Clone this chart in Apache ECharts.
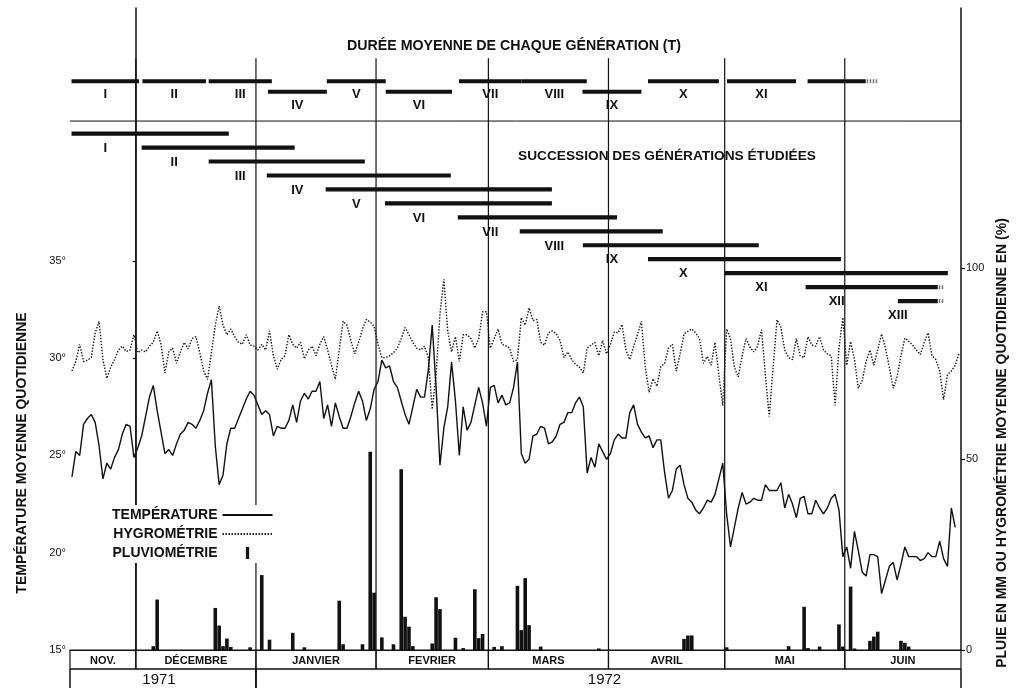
<!DOCTYPE html>
<html><head><meta charset="utf-8">
<script src="https://cdn.jsdelivr.net/npm/echarts@6/dist/echarts.min.js"></script>
<style>html,body{margin:0;padding:0;background:#fff}#c{width:1019px;height:688px}</style>
</head><body><div id="c"></div><script>
// Days are counted from 1 December 1971 (day 0). First daily value = day -17 (14 Nov 1971).
const firstDay = -17;
const lastDay = 213; // 1 July 1972

const temperature = [
23.9,25.2,25.0,26.6,26.9,27.1,26.7,25.5,23.8,24.6,
24.3,24.9,25.3,26.1,26.6,26.5,24.9,
25.4,26.0,27.0,28.0,28.6,27.3,26.2,25.1,25.3,25.0,
25.6,26.1,26.3,26.7,26.6,26.4,26.8,27.3,28.2,28.9,
25.5,23.5,24.0,25.6,26.4,26.4,26.9,27.4,27.9,28.3,
28.1,27.6,27.1,27.3,27.1,26.0,26.5,26.4,26.4,26.8,
27.6,26.7,27.8,28.2,27.9,28.3,28.3,28.8,26.9,27.6,
26.5,27.7,27.0,26.4,26.4,27.0,27.7,28.3,27.8,26.8,
27.4,28.4,28.8,29.9,29.5,29.6,28.8,28.5,27.8,27.1,
26.6,27.5,28.4,28.0,28.0,29.4,31.7,28.5,24.5,26.4,
27.5,29.8,27.8,25.0,27.5,26.3,26.7,27.6,28.5,27.7,
26.5,28.5,28.6,27.7,28.1,27.6,27.7,28.5,29.8,25.1,
24.6,24.8,26.0,26.1,26.5,26.4,25.6,25.7,26.0,26.6,
26.7,27.2,27.2,27.7,28.0,27.5,24.1,24.9,24.4,25.6,
25.2,24.8,25.1,25.8,26.1,25.9,25.9,27.2,27.6,26.6,
26.2,25.9,26.0,25.4,25.8,25.8,24.1,22.8,23.2,24.3,
24.5,23.5,22.8,22.6,22.2,22.0,22.3,22.7,22.6,23.0,
23.8,24.6,22.0,20.3,21.3,22.3,23.1,22.5,22.6,22.8,
22.7,22.7,23.5,23.2,23.2,23.2,23.6,22.3,23.0,22.5,
21.8,22.8,22.9,22.0,22.0,22.7,22.3,22.0,22.3,22.8,
23.0,22.2,19.8,20.3,19.2,21.1,20.1,19.0,18.8,19.9,
19.9,19.8,17.9,18.6,19.3,19.5,18.6,19.4,20.3,19.8,
19.8,19.8,19.6,19.7,20.0,19.8,19.8,20.6,19.7,19.3,
22.3,21.3,null
];

const hygrometry = [
73.0,75.5,80.0,75.5,75.8,76.6,83.0,86.0,76.0,71.1,
74.0,76.0,78.5,79.5,78.1,78.5,82.5,
77.8,78.5,78.0,79.5,80.5,83.5,80.0,72.5,78.0,79.0,
75.0,78.0,80.5,78.8,81.5,82.0,77.8,73.0,70.8,77.8,
85.0,90.0,85.0,82.5,84.0,82.0,80.5,80.0,82.5,79.8,
79.5,78.5,80.0,78.5,83.5,77.0,73.5,76.0,77.0,82.5,
80.0,79.0,80.5,76.2,78.5,79.5,77.0,80.0,82.0,78.5,
74.5,70.8,78.5,86.0,85.0,81.0,77.5,80.5,84.0,86.5,
85.8,84.7,80.0,76.5,76.5,77.0,77.8,79.0,81.5,84.4,
82.5,80.5,79.0,78.5,79.5,76.5,63.0,72.0,88.0,97.0,
83.5,78.0,82.0,75.5,82.5,82.5,81.5,79.0,81.5,88.5,
88.5,79.0,81.5,84.0,80.0,79.6,79.0,75.5,76.0,87.0,
85.0,89.5,86.2,86.5,80.5,79.8,83.0,83.5,82.8,81.0,
76.5,78.0,76.0,74.8,74.0,72.5,79.0,79.8,80.5,77.0,
81.0,77.5,80.0,83.2,83.0,85.2,78.5,76.0,79.5,82.5,
86.0,74.0,67.4,71.0,69.0,74.2,75.0,79.0,80.0,73.0,
77.5,82.7,83.4,84.0,83.0,81.5,75.0,76.8,74.5,80.5,
72.0,64.0,84.0,81.5,74.0,71.5,77.0,81.5,79.3,78.0,
79.5,83.8,72.0,61.1,74.0,86.4,84.5,78.5,76.5,76.0,
81.5,77.0,76.5,82.0,79.8,79.5,82.0,78.5,77.5,77.0,
64.0,79.0,87.0,74.5,80.7,76.0,68.5,70.5,75.5,78.5,
74.5,78.5,82.7,79.0,74.0,68.5,71.5,77.0,81.6,80.8,
79.8,78.5,77.3,80.5,83.0,77.0,76.0,73.0,65.5,72.0,
73.0,74.5,77.7
];

const rainDays = [4,5,20,21,22,23,24,29,32,34,40,43,52,53,58,60,61,63,66,68,69,70,71,76,77,78,82,84,87,88,89,92,94,98,99,100,101,104,119,141,142,143,152,168,172,173,176,181,182,184,185,189,190,191,197,198,199];
const rainMM = [1.0,13.2,11.0,6.4,1.0,3.0,0.8,0.7,19.6,2.7,4.5,0.7,12.9,1.5,1.5,51.9,15.0,3.3,1.5,47.3,8.7,6.1,1.0,1.7,13.8,10.7,3.2,0.5,15.9,3.1,4.2,0.8,1.0,16.8,5.2,18.8,6.5,0.9,0.4,2.9,3.8,3.8,0.7,1.0,11.3,0.5,0.9,6.7,0.9,16.6,0.4,2.4,3.5,4.8,2.4,1.9,0.9];

const monthNames = ['NOV.','DÉCEMBRE','JANVIER','FEVRIER','MARS','AVRIL','MAI','JUIN'];
const monthStart = [-17,0,31,62,91,122,152,183];
const monthEnd = [0,31,62,91,122,152,183,213];
const yearNames = ['1971','1972'];
const yearStart = [-17,31];
const yearEnd = [31,213];

const genNames = ['I','II','III','IV','V','VI','VII','VIII','IX','X','XI','XII','XIII'];
// Durée moyenne de chaque génération (T)
const dureeStart = [-16.6,1.7,18.8,34.1,49.3,64.5,83.4,99.6,115.3,132.2,152.6,173.4];
const dureeEnd   = [0.8,18.1,35.1,49.3,64.5,81.6,99.6,116.4,130.5,150.5,170.4,188.4];
const dureeLevel = [0,0,0,1,0,1,0,0,1,0,0,0];
const dureeShowName = [1,1,1,1,1,1,1,1,1,1,1,0];
const dureeDotsTo = [null,null,null,null,null,null,null,null,null,null,null,191.5];
// Succession des générations étudiées
const succStart = [-16.6,1.5,18.8,33.8,49.0,64.3,83.1,99.1,115.4,132.2,152.0,172.9,196.7];
const succEnd   = [24.0,41.0,59.1,81.3,107.4,107.4,124.2,136.0,160.8,182.0,209.6,207.0,207.0];
const succDotsTo = [null,null,null,null,null,null,null,null,null,null,null,208.6,208.6];

const FONT = '"Liberation Sans", Arial, sans-serif';
const INK = '#111';

const chart = echarts.init(document.getElementById('c'), null, {renderer:'canvas'});
const tempData = temperature.map((v,i)=>[firstDay+i+0.5, v]);
const hygroData = hygrometry.map((v,i)=>[firstDay+i+0.5, v]);
const rainData = rainDays.map((d,i)=>[d+0.5, rainMM[i]]);
const bounds = monthStart.slice(1);

function seg(a,b,w,extra){return {type:'line',shape:{x1:a[0],y1:a[1],x2:b[0],y2:b[1]},style:Object.assign({stroke:INK,lineWidth:w},extra||{})};}
function txt(p,t,size,extra){return {type:'text',x:p[0],y:p[1],style:Object.assign({text:t,fill:INK,fontSize:size,fontWeight:'bold',fontFamily:FONT,align:'center',verticalAlign:'middle'},extra||{})};}

const option = {
  animation:false,
  backgroundColor:'#fff',
  color:[INK],
  grid:[{left:70,right:58,top:8,height:642},{left:70,right:58,top:650,height:38}],
  title:[
    {text:'DURÉE MOYENNE DE CHAQUE GÉNÉRATION (T)',left:514,top:39,textAlign:'center',padding:0,
     textStyle:{fontFamily:FONT,fontSize:14.2,fontWeight:'bold',color:INK}},
    {text:'SUCCESSION DES GÉNÉRATIONS ÉTUDIÉES',left:667,top:149,textAlign:'center',padding:0,
     textStyle:{fontFamily:FONT,fontSize:13.7,fontWeight:'bold',color:INK}}
  ],
  legend:{
    orient:'vertical',align:'right',left:108,top:505,itemWidth:50,itemHeight:12,itemGap:5,
    backgroundColor:'#fff',padding:[3,4,3,4],
    textStyle:{fontFamily:FONT,fontSize:14,fontWeight:'bold',color:INK},
    data:[
      {name:'TEMPÉRATURE',itemStyle:{opacity:0}},
      {name:'HYGROMÉTRIE',itemStyle:{opacity:0}},
      {name:'PLUVIOMÉTRIE',icon:'path://M0,0h3v11h-3z',itemStyle:{color:INK}}
    ]
  },
  xAxis:[
    {gridIndex:0,type:'value',min:firstDay,max:lastDay,axisLine:{show:true,lineStyle:{color:INK,width:1.2}},
     axisTick:{show:false},axisLabel:{show:false},splitLine:{show:false}},
    {gridIndex:1,type:'value',min:firstDay,max:lastDay,show:false}
  ],
  yAxis:[
    {gridIndex:0,type:'value',min:15,max:48,interval:5,position:'left',
     axisLine:{show:true,lineStyle:{color:INK,width:1.5}},
     axisTick:{show:true,length:3,inside:false,customValues:[15,20,25,30,35],lineStyle:{color:INK,width:1.2}},
     axisLabel:{customValues:[15,20,25,30,35],formatter:v=>v<=35?v+'°':'',color:INK,fontSize:11,fontFamily:FONT,margin:4},
     splitLine:{show:false},
     name:'TEMPÉRATURE MOYENNE QUOTIDIENNE',nameLocation:'middle',nameGap:41,nameRotate:90,
     nameTextStyle:{fontFamily:FONT,fontSize:14,fontWeight:'bold',color:INK,padding:[0,248,0,0]}},
    {gridIndex:0,type:'value',min:0,max:168,interval:50,position:'right',
     axisLine:{show:true,lineStyle:{color:INK,width:1.5}},
     axisTick:{show:true,length:4,customValues:[0,50,100],lineStyle:{color:INK,width:1.2}},
     axisLabel:{customValues:[0,50,100],formatter:v=>v<=100?String(v):'',color:INK,fontSize:11,fontFamily:FONT,margin:5},
     splitLine:{show:false},
     name:'PLUIE EN MM OU HYGROMÉTRIE MOYENNE QUOTIDIENNE EN (%)',nameLocation:'middle',nameGap:25,nameRotate:90,
     nameTextStyle:{fontFamily:FONT,fontSize:14,fontWeight:'bold',color:INK,padding:[0,228,0,0]}},
    {gridIndex:0,type:'value',min:0,max:46,inverse:true,show:false},
    {gridIndex:1,type:'value',min:0,max:2,inverse:true,show:false}
  ],
  series:[
    {type:'custom',name:'monthLines',xAxisIndex:0,yAxisIndex:2,z:1,silent:true,
     data:bounds.map(d=>[d,46]),
     renderItem:(p,api)=>{const d=bounds[p.dataIndex];return seg(api.coord([d,3.6]),api.coord([d,46]),1.2);}},
    {type:'custom',name:'separator',xAxisIndex:0,yAxisIndex:2,z:1,silent:true,
     data:[[firstDay,8.1]],
     renderItem:(p,api)=>seg(api.coord([firstDay,8.1]),api.coord([lastDay,8.1]),1)},
    {type:'custom',name:'duree',xAxisIndex:0,yAxisIndex:2,z:3,silent:true,
     data:dureeStart.map((s,i)=>[s,dureeEnd[i]]),
     renderItem:(p,api)=>{
       const i=p.dataIndex,row=5.25+0.75*dureeLevel[i];
       const a=api.coord([dureeStart[i],row]),b=api.coord([dureeEnd[i],row]);
       const ch=[seg(a,b,4)];
       if(dureeDotsTo[i]!=null){const c=api.coord([dureeDotsTo[i],row]);ch.push(seg([b[0]+1,b[1]],c,4,{stroke:'#777',lineDash:[1.5,1.5]}));}
       if(dureeShowName[i]) ch.push(txt(api.coord([(dureeStart[i]+dureeEnd[i])/2,row+0.95]),genNames[i],13));
       return {type:'group',children:ch};
     }},
    {type:'custom',name:'succession',xAxisIndex:0,yAxisIndex:2,z:3,silent:true,
     data:succStart.map((s,i)=>[s,succEnd[i]]),
     renderItem:(p,api)=>{
       const i=p.dataIndex,row=9+i;
       const a=api.coord([succStart[i],row]),b=api.coord([succEnd[i],row]);
       const ch=[seg(a,b,4.2)];
       if(succDotsTo[i]!=null){const c=api.coord([succDotsTo[i],row]);ch.push(seg([b[0]+1,b[1]],c,4,{stroke:'#777',lineDash:[1.5,1.5]}));}
       const ld = i<dureeStart.length ? (dureeStart[i]+dureeEnd[i])/2 : succStart[i];
       ch.push(txt(api.coord([ld,row+1.05]),genNames[i],13));
       return {type:'group',children:ch};
     }},
    {type:'bar',name:'PLUVIOMÉTRIE',xAxisIndex:0,yAxisIndex:1,barWidth:3.6,z:2,
     itemStyle:{color:INK},data:rainData},
    {type:'line',name:'HYGROMÉTRIE',xAxisIndex:0,yAxisIndex:1,symbol:'none',z:3,
     itemStyle:{color:INK},lineStyle:{color:INK,width:1.4,type:[1.4,1.6]},data:hygroData},
    {type:'line',name:'TEMPÉRATURE',xAxisIndex:0,yAxisIndex:0,symbol:'none',z:3,
     itemStyle:{color:INK},lineStyle:{color:INK,width:1.4},data:tempData},
    {type:'custom',name:'months',xAxisIndex:1,yAxisIndex:3,silent:true,
     data:monthStart.map((s,i)=>[s,monthEnd[i]]),
     renderItem:(p,api)=>{
       const i=p.dataIndex,a=api.coord([monthStart[i],0]),b=api.coord([monthEnd[i],1]);
       return {type:'group',children:[
         {type:'rect',shape:{x:a[0],y:a[1],width:b[0]-a[0],height:b[1]-a[1]},style:{fill:'none',stroke:INK,lineWidth:1.2}},
         txt([(a[0]+b[0])/2,(a[1]+b[1])/2+1],monthNames[i],11)]};
     }},
    {type:'custom',name:'years',xAxisIndex:1,yAxisIndex:3,silent:true,
     data:yearStart.map((s,i)=>[s,yearEnd[i]]),
     renderItem:(p,api)=>{
       const i=p.dataIndex,a=api.coord([yearStart[i],1]),b=api.coord([yearEnd[i],2]);
       return {type:'group',children:[
         seg([a[0],a[1]],[a[0],b[1]],1.5),seg([b[0],a[1]],[b[0],b[1]],1.5),seg([a[0],a[1]],[b[0],a[1]],1.2),
         txt([(a[0]+b[0])/2-4,(a[1]+b[1])/2+1],yearNames[i],15,{fontWeight:'normal'})]};
     }}
  ]
};
chart.setOption(option);
</script></body></html>
